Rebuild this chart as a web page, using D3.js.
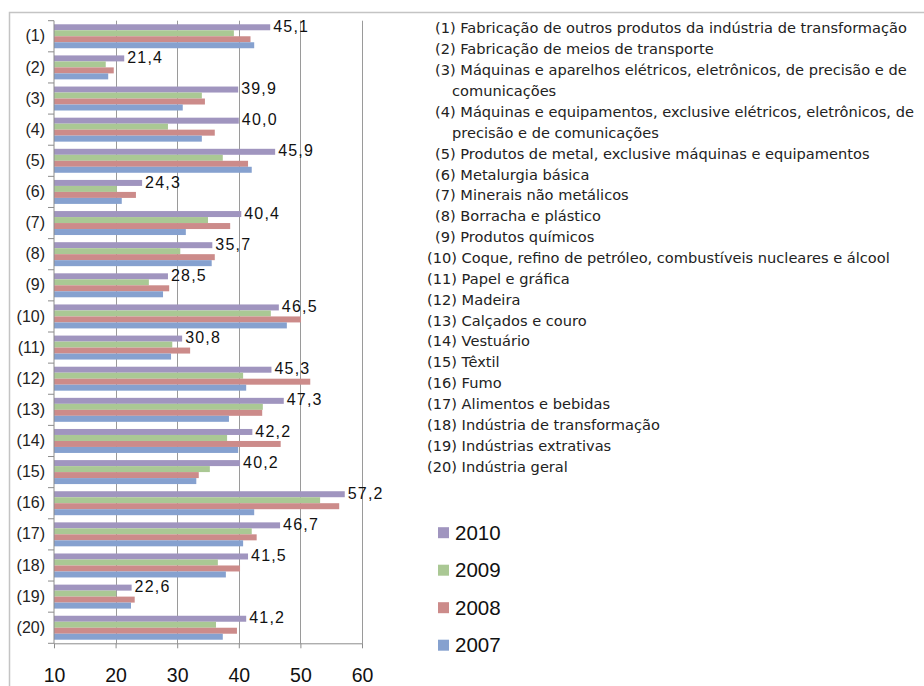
<!DOCTYPE html>
<html>
<meta charset="utf-8">
<head>
  <script src="https://d3js.org/d3.v7.min.js"></script>
  <style>
    body { margin: 0; background: #fff; }
    .axis path, .axis line { stroke: #8c8c8c; }
    .grid line { stroke: #9a9a9a; }
  </style>
</head>
<body>
<div id="chart"></div>
<script>
  "use strict"

  var categories = ["(1)","(2)","(3)","(4)","(5)","(6)","(7)","(8)","(9)","(10)",
                    "(11)","(12)","(13)","(14)","(15)","(16)","(17)","(18)","(19)","(20)"];

  // nomes dos setores; "\n" marca a quebra de linha da legenda
  var sectors = [
    "Fabricação de outros produtos da indústria de transformação",
    "Fabricação de meios de transporte",
    "Máquinas e aparelhos elétricos, eletrônicos, de precisão e de\ncomunicações",
    "Máquinas e equipamentos, exclusive elétricos, eletrônicos, de\nprecisão e de comunicações",
    "Produtos de metal, exclusive máquinas e equipamentos",
    "Metalurgia básica",
    "Minerais não metálicos",
    "Borracha e plástico",
    "Produtos químicos",
    "Coque, refino de petróleo, combustíveis nucleares e álcool",
    "Papel e gráfica",
    "Madeira",
    "Calçados e couro",
    "Vestuário",
    "Têxtil",
    "Fumo",
    "Alimentos e bebidas",
    "Indústria de transformação",
    "Indústrias extrativas",
    "Indústria geral"
  ];

  var years = ["2010", "2009", "2008", "2007"];

  var v2010 = [45.1, 21.4, 39.9, 40.0, 45.9, 24.3, 40.4, 35.7, 28.5, 46.5,
               30.8, 45.3, 47.3, 42.2, 40.2, 57.2, 46.7, 41.5, 22.6, 41.2];
  var v2009 = [39.2, 18.4, 34.0, 28.5, 37.4, 20.2, 35.0, 30.5, 25.4, 45.2,
               29.2, 40.7, 43.9, 38.1, 35.3, 53.2, 42.1, 36.6, 20.1, 36.3];
  var v2008 = [41.9, 19.7, 34.5, 36.1, 41.5, 23.3, 38.6, 36.1, 28.7, 50.1,
               32.1, 51.6, 43.8, 46.8, 33.5, 56.3, 42.9, 40.2, 23.1, 39.7];
  var v2007 = [42.5, 18.8, 30.9, 34.0, 42.1, 21.0, 31.4, 35.6, 27.7, 47.8,
               29.0, 41.2, 38.4, 39.9, 33.1, 42.5, 40.7, 37.9, 22.5, 37.4];

  var xTicks = [10, 20, 30, 40, 50, 60];

  var series = [v2010, v2009, v2008, v2007];
  var colors = ["#a095bf", "#aac894", "#cc8b8a", "#86a1cf"];

  var width = 924, height = 686;

  var svg = d3.select("#chart").append("svg")
      .attr("width", width)
      .attr("height", height);

  // moldura do grafico
  svg.append("path")
      .attr("d", "M9.5," + height + "V12.5H" + width)
      .attr("fill", "none")
      .attr("stroke", "#c4c4c4")
      .attr("stroke-width", 1.5);

  var x = d3.scaleLinear().domain([10, 60]).range([54, 362]);
  var y0 = d3.scaleBand().domain(categories).range([20.7, 643.3]);
  var bw = y0.bandwidth();
  var y1 = d3.scaleBand().domain(years).range([bw * 0.115, bw * 0.885]);

  // grade vertical
  svg.append("g").attr("class", "grid")
    .selectAll("line")
    .data(xTicks.slice(1))
    .enter().append("line")
      .attr("x1", function(d) { return Math.round(x(d)) + 0.5; })
      .attr("x2", function(d) { return Math.round(x(d)) + 0.5; })
      .attr("y1", 20.7)
      .attr("y2", 643.3);

  // barras
  var groups = svg.append("g")
    .selectAll("g")
    .data(categories)
    .enter().append("g")
      .attr("transform", function(d) { return "translate(0," + y0(d) + ")"; });

  groups.selectAll("rect")
    .data(function(d, i) {
      return years.map(function(yr, j) { return { year: yr, value: series[j][i], c: colors[j] }; });
    })
    .enter().append("rect")
      .attr("x", x(10))
      .attr("y", function(d) { return y1(d.year); })
      .attr("width", function(d) { return x(d.value) - x(10); })
      .attr("height", y1.bandwidth())
      .attr("fill", function(d) { return d.c; });

  // rotulos de 2010
  var fmt = function(v) { return d3.format(".1f")(v).replace(".", ","); };
  groups.append("text")
      .attr("x", function(d, i) { return x(v2010[i]) + 3; })
      .attr("y", y1("2010") + y1.bandwidth() / 2 - 1)
      .attr("dy", "0.35em")
      .attr("font-family", "Liberation Sans, Arial, sans-serif")
      .attr("font-size", 16)
      .attr("letter-spacing", 1.2)
      .attr("fill", "#111")
      .text(function(d, i) { return fmt(v2010[i]); });

  // eixo vertical
  var yAxis = svg.append("g").attr("class", "axis")
      .attr("transform", "translate(" + x(10) + ",0)")
      .call(d3.axisLeft(y0).tickSize(0).tickPadding(9));
  yAxis.select(".domain").attr("d", "M0,20.7V643.3");
  yAxis.selectAll("text")
      .attr("font-family", "Liberation Sans, Arial, sans-serif")
      .attr("font-size", 16)
      .attr("fill", "#222");
  yAxis.selectAll(".sep")
    .data(categories.concat(["end"]))
    .enter().append("line")
      .attr("class", "sep")
      .attr("x1", -6).attr("x2", 0)
      .attr("y1", function(d, i) { return 20.7 + i * bw; })
      .attr("y2", function(d, i) { return 20.7 + i * bw; });

  // eixo horizontal
  var xAxis = svg.append("g").attr("class", "axis")
      .attr("transform", "translate(0,643.3)")
      .call(d3.axisBottom(x).tickValues(xTicks).tickSize(5).tickPadding(20).tickSizeOuter(0));
  xAxis.selectAll("text")
      .attr("font-family", "Liberation Sans, Arial, sans-serif")
      .attr("font-size", 19.5)
      .attr("fill", "#111");

  // legenda dos setores
  var lines = [];
  sectors.forEach(function(s, i) {
    var parts = s.split("\n");
    lines.push({ text: categories[i] + " " + parts[0], x: i < 9 ? 435 : 427 });
    if (parts[1]) lines.push({ text: parts[1], x: 452 });
  });

  svg.append("g")
    .selectAll("text")
    .data(lines)
    .enter().append("text")
      .attr("x", function(d) { return d.x; })
      .attr("y", function(d, i) { return 28.3 + i * 20.87; })
      .attr("dy", "0.35em")
      .attr("font-family", "DejaVu Sans, sans-serif")
      .attr("font-size", 14.6)
      .attr("fill", "#222")
      .text(function(d) { return d.text; });

  // legenda das series
  var leg = svg.append("g")
    .selectAll("g")
    .data(years)
    .enter().append("g")
      .attr("transform", function(d, i) { return "translate(438," + (532.7 + i * 37.5) + ")"; });

  leg.append("rect")
      .attr("x", 0).attr("y", -5.5)
      .attr("width", 11).attr("height", 11)
      .attr("fill", function(d, i) { return colors[i]; });

  leg.append("text")
      .attr("x", 17)
      .attr("dy", "0.35em")
      .attr("font-family", "Liberation Sans, Arial, sans-serif")
      .attr("font-size", 20.5)
      .attr("fill", "#111")
      .text(function(d) { return d; });
</script>
</body>
</html>
